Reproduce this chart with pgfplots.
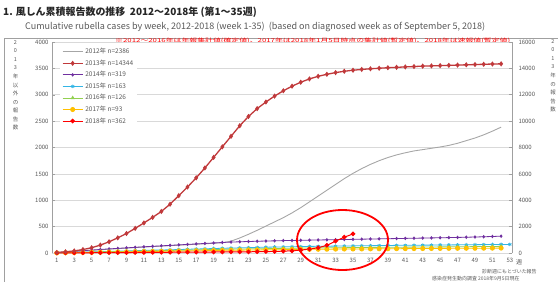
\documentclass[border=0pt]{standalone}
\usepackage{fontspec}
\setmainfont{Noto Sans CJK JP}
\usepackage{graphicx}
\usepackage{pgfplots}
\pgfplotsset{compat=1.18}
\definecolor{c12}{HTML}{A6A6A6}
\definecolor{c13}{HTML}{C0393B}
\definecolor{c14}{HTML}{7030A0}
\definecolor{c15}{HTML}{33B5E5}
\definecolor{c16}{HTML}{92D050}
\definecolor{c17}{HTML}{FFC000}
\definecolor{c18}{HTML}{FF0000}
\definecolor{gridc}{HTML}{D9D9D9}
\definecolor{txt}{HTML}{595959}
\definecolor{framec}{HTML}{A0A0A0}
\pgfplotsset{
  common/.style={
    at={(52bp,29bp)}, anchor=south west, scale only axis,
    width=460bp, height=211bp,
    xmin=0.45, xmax=53.25,
    /pgf/number format/assume math mode=true,
    /pgf/number format/1000 sep={},
    scaled y ticks=false,
    tick label style={font=\fontsize{6}{7}\selectfont, text=txt},
    tick style={draw=framec, line width=0.5bp},
    major tick length=3bp,
  },
  legend image code/.code={\draw[mark repeat=2,mark phase=2,#1] plot coordinates {(0bp,0bp) (10bp,0bp) (20bp,0bp)};},
}
\begin{document}
\begin{tikzpicture}[x=1bp,y=1bp]
\path[use as bounding box] (0,0) rectangle (558,282);
\draw[framec, line width=0.8bp] (4.5,0) -- (4.5,244) -- (558,244);
\node[anchor=west, inner sep=0, font=\bfseries\fontsize{10}{11}\selectfont, text=black!85] at (3,270) {1. 風しん累積報告数の推移\ \ 2012〜2018年 (第1〜35週)};
\node[anchor=west, inner sep=0, text=txt] at (25,255) {\resizebox{460bp}{!}{Cumulative rubella cases by week, 2012-2018 (week 1-35)\ \ (based on diagnosed week as of September 5, 2018)}};
\node[anchor=west, inner sep=0, text=red] at (115,241) {\resizebox{395bp}{4.5bp}{※2012〜2016年は年報集計値(確定値)、2017年は2018年1月5日時点の集計値(暫定値)、2018年は速報値(暫定値)}};
\node[anchor=north, inner sep=0, align=center, font=\fontsize{5.5}{8.6}\selectfont, text=txt] at (15.5,242) {2\\0\\1\\3\\年\\以\\外\\の\\報\\告\\数};
\node[anchor=north, inner sep=0, align=center, font=\fontsize{5.5}{8.6}\selectfont, text=txt] at (553,243) {2\\0\\1\\3\\年\\の\\報\\告\\数};
\node[anchor=west, inner sep=0, font=\fontsize{5}{6}\selectfont, text=txt] at (482,10.5) {診断週にもとづいた報告};
\node[anchor=west, inner sep=0, font=\fontsize{5}{6}\selectfont, text=txt] at (432,3) {感染症発生動向調査\ 2018年9月5日現在};

\begin{axis}[common,
  ymin=0, ymax=4000,
  xtick={1,3,...,53}, ytick={0,500,...,4000},
  ymajorgrids, grid style={gridc, line width=0.6bp},
  axis x line*=bottom, axis y line*=left,
  x axis line style={draw=gridc, line width=0.6bp, -},
  y axis line style={draw=framec, line width=0.7bp, -},
  xtick style={draw=none},
  xticklabel style={yshift=-1.5bp},
  ytick style={draw=framec},
  legend style={at={(rel axis cs:0.017,0.99)}, anchor=north west, draw=none, fill=white,
    font=\fontsize{6.5}{7.5}\selectfont, text=txt, row sep=0.6bp, inner sep=2bp},
  legend cell align=left,
  clip=false,
]
\addplot[c12, line width=0.9bp, no marks] coordinates {
(1,6)(2,17)(3,28)(4,39)(5,50)(6,61)(7,72)(8,82)(9,92)(10,102)(11,112)(12,121)(13,130)(14,139)(15,148)(16,157)(17,166)(18,175)(19,184)(20,195)(21,225)(22,285)(23,355)(24,430)(25,510)(26,590)(27,670)(28,760)(29,860)(30,970)(31,1080)(32,1190)(33,1300)(34,1410)(35,1510)(36,1600)(37,1680)(38,1750)(39,1810)(40,1860)(41,1900)(42,1935)(43,1960)(44,1985)(45,2010)(46,2040)(47,2080)(48,2130)(49,2180)(50,2240)(51,2310)(52,2386)};
\addlegendentry{2012年 n=2386}
\addlegendimage{c13, line width=1.3bp, mark=diamond*, mark size=1.6bp, mark options={fill=c13}}
\addlegendentry{2013年 n=14344}
\addplot[c14, line width=0.8bp, mark=diamond*, mark size=1.2bp, mark options={fill=c14}] coordinates {
(1,8)(2,20)(3,32)(4,44)(5,56)(6,67)(7,78)(8,88)(9,98)(10,108)(11,118)(12,127)(13,136)(14,145)(15,154)(16,163)(17,172)(18,181)(19,190)(20,199)(21,207)(22,213)(23,218)(24,223)(25,227)(26,231)(27,235)(28,238)(29,241)(30,244)(31,247)(32,250)(33,253)(34,256)(35,259)(36,262)(37,265)(38,268)(39,271)(40,274)(41,277)(42,280)(43,283)(44,286)(45,289)(46,292)(47,295)(48,299)(49,303)(50,308)(51,313)(52,319)};
\addlegendentry{2014年 n=319}
\addplot[c15, line width=0.8bp, mark=asterisk, mark size=1.8bp] coordinates {
(1,3)(2,7)(3,11)(4,15)(5,20)(6,25)(7,30)(8,35)(9,40)(10,45)(11,49)(12,53)(13,57)(14,61)(15,66)(16,71)(17,76)(18,80)(19,85)(20,90)(21,94)(22,98)(23,102)(24,106)(25,110)(26,113)(27,116)(28,119)(29,122)(30,125)(31,127)(32,129)(33,131)(34,133)(35,135)(36,137)(37,139)(38,141)(39,143)(40,145)(41,146)(42,147)(43,149)(44,150)(45,152)(46,153)(47,155)(48,156)(49,158)(50,160)(51,161)(52,162)(53,163)};
\addlegendentry{2015年 n=163}
\addplot[c16, line width=0.8bp, mark=triangle*, mark size=1.6bp, mark options={fill=c16}] coordinates {
(1,3)(2,6)(3,10)(4,13)(5,17)(6,21)(7,24)(8,28)(9,31)(10,35)(11,38)(12,42)(13,45)(14,49)(15,52)(16,56)(17,59)(18,63)(19,66)(20,70)(21,73)(22,76)(23,78)(24,81)(25,83)(26,86)(27,88)(28,90)(29,93)(30,95)(31,97)(32,98)(33,100)(34,101)(35,103)(36,104)(37,106)(38,107)(39,109)(40,110)(41,111)(42,112)(43,114)(44,115)(45,116)(46,117)(47,119)(48,120)(49,121)(50,123)(51,124)(52,126)};
\addlegendentry{2016年 n=126}
\addplot[c17, line width=0.8bp, mark=*, mark size=2.1bp, mark options={fill=c17}] coordinates {
(1,2)(2,5)(3,7)(4,10)(5,12)(6,15)(7,17)(8,20)(9,22)(10,25)(11,27)(12,30)(13,32)(14,35)(15,37)(16,40)(17,42)(18,45)(19,47)(20,50)(21,52)(22,54)(23,56)(24,58)(25,60)(26,62)(27,64)(28,66)(29,68)(30,70)(31,71)(32,72)(33,74)(34,75)(35,76)(36,77)(37,78)(38,80)(39,81)(40,82)(41,83)(42,84)(43,85)(44,86)(45,87)(46,88)(47,89)(48,90)(49,90)(50,91)(51,92)(52,93)};
\addlegendentry{2017年 n=93}
\addplot[c18, line width=1bp, mark=*, mark size=1.8bp, mark options={fill=c18}] coordinates {
(1,1)(2,2)(3,3)(4,4)(5,5)(6,6)(7,7)(8,8)(9,9)(10,10)(11,11)(12,12)(13,13)(14,14)(15,15)(16,16)(17,17)(18,18)(19,19)(20,20)(21,21)(22,22)(23,23)(24,25)(25,27)(26,30)(27,35)(28,42)(29,55)(30,75)(31,100)(32,145)(33,225)(34,300)(35,362)};
\addlegendentry{2018年 n=362}
\node[anchor=west, inner sep=0, font=\fontsize{6}{7}\selectfont, text=txt] at (rel axis cs:1,0) [xshift=4bp, yshift=-9bp] {週};
\end{axis}

\begin{axis}[common,
  ymin=0, ymax=16000,
  ytick={0,2000,...,16000},
  axis x line=none, axis y line*=right,
  y axis line style={draw=framec, line width=0.7bp, -},
  yticklabel style={xshift=3bp},
]
\addplot[c13, line width=1.3bp, mark=diamond*, mark size=1.6bp, mark options={fill=c13}] coordinates {
(1,40)(2,90)(3,160)(4,260)(5,400)(6,600)(7,850)(8,1150)(9,1480)(10,1870)(11,2280)(12,2700)(13,3150)(14,3700)(15,4350)(16,5000)(17,5700)(18,6450)(19,7250)(20,8050)(21,8850)(22,9650)(23,10350)(24,10950)(25,11450)(26,11900)(27,12300)(28,12650)(29,12950)(30,13200)(31,13400)(32,13550)(33,13680)(34,13780)(35,13860)(36,13920)(37,13970)(38,14010)(39,14050)(40,14080)(41,14110)(42,14140)(43,14170)(44,14190)(45,14210)(46,14230)(47,14250)(48,14270)(49,14290)(50,14310)(51,14330)(52,14344)};
\end{axis}
\draw[red, line width=1.8bp] (342.5,42) ellipse [x radius=45.5bp, y radius=30bp];
\end{tikzpicture}
\end{document}
